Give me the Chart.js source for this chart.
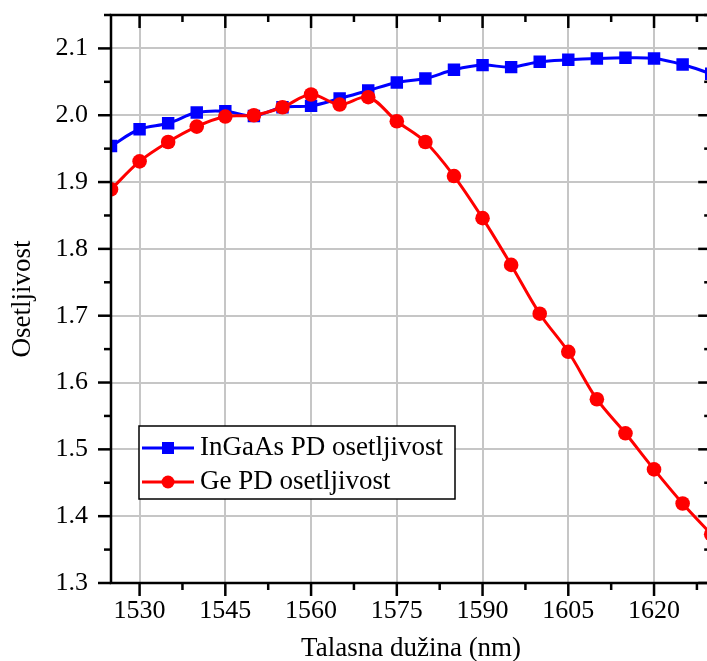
<!DOCTYPE html>
<html>
<head>
<meta charset="utf-8">
<script src="https://cdn.jsdelivr.net/npm/chart.js@4/dist/chart.umd.min.js"></script>
<style>
  html, body { margin: 0; padding: 0; background: #fff; overflow: hidden; }
  #chart { display: block; }
</style>
</head>
<body>
<canvas id="chart" width="720" height="661"></canvas>
<script>
// ─────────────────────────────────────────────────────────────
// DATA
// ─────────────────────────────────────────────────────────────
const wavelengths = [1525, 1530, 1535, 1540, 1545, 1550, 1555, 1560, 1565, 1570, 1575,
                     1580, 1585, 1590, 1595, 1600, 1605, 1610, 1615, 1620, 1625, 1630];
const ingaasResp  = [1.954, 1.979, 1.988, 2.004, 2.006, 1.999, 2.012, 2.014, 2.025, 2.037, 2.049,
                     2.055, 2.068, 2.075, 2.072, 2.080, 2.083, 2.085, 2.086, 2.085, 2.076, 2.062];
const geResp      = [1.889, 1.931, 1.960, 1.983, 1.998, 2.000, 2.012, 2.031, 2.016, 2.027, 1.991,
                     1.960, 1.909, 1.846, 1.776, 1.703, 1.646, 1.575, 1.524, 1.470, 1.419, 1.373];
const xTicks      = [1530, 1545, 1560, 1575, 1590, 1605, 1620];
const yTicks      = [1.3, 1.4, 1.5, 1.6, 1.7, 1.8, 1.9, 2.0, 2.1];
const seriesNames = ['InGaAs PD osetljivost', 'Ge PD osetljivost'];

// ─────────────────────────────────────────────────────────────
// STYLE
// ─────────────────────────────────────────────────────────────
const SERIF = "'Liberation Serif', 'Times New Roman', serif";
const BLUE = '#0000ff';
const RED  = '#ff0000';
const GRID = '#c6c6c6';

// ─────────────────────────────────────────────────────────────
// PLUGIN: Origin-style frame with in/out ticks + inner legend
// ─────────────────────────────────────────────────────────────
const framePlugin = {
  id: 'frame',
  afterDatasetsDraw(chart) {
    const { ctx, chartArea: a, scales: { x, y } } = chart;
    ctx.save();
    ctx.strokeStyle = '#000';
    ctx.lineWidth = 2.5;
    ctx.strokeRect(a.left, a.top, a.right - a.left, a.bottom - a.top);

    const tick = (x1, y1, x2, y2) => { ctx.beginPath(); ctx.moveTo(x1, y1); ctx.lineTo(x2, y2); ctx.stroke(); };

    // x ticks: major every 15, minor in between
    xTicks.forEach(v => {
      [v, v + 7.5].forEach((t, i) => {
        if (t < x.min || t > x.max) return;
        const px = x.getPixelForValue(t);
        const len = i === 0 ? 13 : 7;
        tick(px, a.bottom, px, a.bottom + len);
        tick(px, a.top, px, a.top + len);
      });
    });
    // y ticks: major every 0.1, minor in between
    yTicks.forEach(v => {
      [v, v + 0.05].forEach((t, i) => {
        if (t > y.max + 1e-9) return;
        const py = y.getPixelForValue(t);
        const len = i === 0 ? 13 : 7;
        tick(a.left - len, py, a.left, py);
        tick(a.right - len, py, a.right, py);
      });
    });
    ctx.restore();
  },
  afterDraw(chart) {
    const { ctx } = chart;
    const bx = 139, by = 426, bw = 316, bh = 73;
    ctx.save();
    ctx.fillStyle = '#fff';
    ctx.fillRect(bx, by, bw, bh);
    ctx.strokeStyle = '#000';
    ctx.lineWidth = 1.5;
    ctx.strokeRect(bx, by, bw, bh);

    const rows = [
      { name: seriesNames[0], color: BLUE, style: 'rect', cy: 448 },
      { name: seriesNames[1], color: RED,  style: 'circle', cy: 482 },
    ];
    rows.forEach(r => {
      ctx.strokeStyle = r.color;
      ctx.lineWidth = 3;
      ctx.beginPath();
      ctx.moveTo(142, r.cy);
      ctx.lineTo(194, r.cy);
      ctx.stroke();
      ctx.fillStyle = r.color;
      if (r.style === 'rect') {
        ctx.fillRect(162, r.cy - 6, 12, 12);
      } else {
        ctx.beginPath();
        ctx.arc(168, r.cy, 6.5, 0, Math.PI * 2);
        ctx.fill();
      }
      ctx.fillStyle = '#000';
      ctx.font = `27px ${SERIF}`;
      ctx.textBaseline = 'middle';
      ctx.fillText(r.name, 200, r.cy);
    });
    ctx.restore();
  }
};

// ─────────────────────────────────────────────────────────────
// CHART
// ─────────────────────────────────────────────────────────────
const toPoints = vals => vals.map((v, i) => ({ x: wavelengths[i], y: v }));

new Chart(document.getElementById('chart'), {
  type: 'line',
  data: {
    datasets: [
      {
        label: seriesNames[1],
        data: toPoints(geResp),
        borderColor: RED,
        backgroundColor: RED,
        borderWidth: 3,
        pointStyle: 'circle',
        pointRadius: 7.3,
        pointBorderWidth: 0,
        tension: 0.35,
        order: 0,
      },
      {
        label: seriesNames[0],
        data: toPoints(ingaasResp),
        borderColor: BLUE,
        backgroundColor: BLUE,
        borderWidth: 3,
        pointStyle: 'rect',
        pointRadius: 8.8,
        pointBorderWidth: 0,
        tension: 0.35,
        order: 1,
      },
    ]
  },
  options: {
    responsive: false,
    devicePixelRatio: 1,
    animation: false,
    layout: { padding: { top: 15, right: 7, left: 0, bottom: 0 } },
    plugins: {
      legend: { display: false },
      tooltip: { enabled: false },
    },
    scales: {
      x: {
        type: 'linear',
        min: 1525,
        max: 1630,
        afterBuildTicks: s => { s.ticks = xTicks.map(v => ({ value: v })); },
        afterFit: s => { s.height = 78; s.paddingLeft = 0; s.paddingRight = 0; },
        grid: { color: GRID, lineWidth: 2, drawTicks: false },
        border: { display: false },
        ticks: {
          color: '#000',
          font: { family: SERIF, size: 26 },
          padding: 13,
          maxRotation: 0,
          callback: v => String(v),
        },
        title: {
          display: true,
          text: 'Talasna dužina (nm)',
          color: '#000',
          font: { family: SERIF, size: 27, lineHeight: 0.9 },
          padding: 0,
        },
      },
      y: {
        type: 'linear',
        min: 1.3,
        max: 2.15,
        afterBuildTicks: s => { s.ticks = yTicks.map(v => ({ value: v })); },
        afterFit: s => { s.width = 111; s.paddingTop = 0; s.paddingBottom = 0; },
        grid: { color: GRID, lineWidth: 2, drawTicks: false },
        border: { display: false },
        ticks: {
          color: '#000',
          font: { family: SERIF, size: 26 },
          padding: 23,
          callback: v => v.toFixed(1),
        },
        title: {
          display: true,
          text: 'Osetljivost',
          color: '#000',
          font: { family: SERIF, size: 27, lineHeight: 1 },
          padding: { top: 9, bottom: 0 },
        },
      },
    },
  },
  plugins: [framePlugin],
});
</script>
</body>
</html>
